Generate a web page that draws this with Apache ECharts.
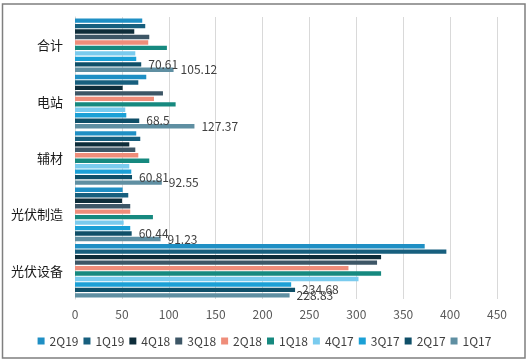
<!DOCTYPE html>
<html>
<head>
<meta charset="utf-8">
<script src="https://cdn.jsdelivr.net/npm/echarts@6/dist/echarts.min.js"></script>
<style>
html,body{margin:0;padding:0;background:#fff;}
#chart{width:529px;height:362px;}
</style>
</head>
<body>
<div id="chart"></div>
<script>
var categories = ['合计', '电站', '辅材', '光伏制造', '光伏设备'];
var seriesNames = ['2Q19', '1Q19', '4Q18', '3Q18', '2Q18', '1Q18', '4Q17', '3Q17', '2Q17', '1Q17'];
var s2Q19 = [71.7, 76.0, 65.3, 50.8, 372.9];
var s1Q19 = [74.9, 67.5, 69.6, 56.8, 396.0];
var s4Q18 = [63.2, 50.8, 57.9, 50.1, 326.4];
var s3Q18 = [79.2, 93.8, 64.3, 58.9, 322.1];
var s2Q18 = [78.1, 84.2, 67.5, 58.9, 291.6];
var s1Q18 = [98.0, 107.3, 79.2, 83.1, 326.4];
var s4Q17 = [64.3, 53.6, 57.9, 51.9, 302.3];
var s3Q17 = [65.3, 54.7, 60.0, 58.9, 230.5];
var s2Q17 = [70.61, 68.5, 60.81, 60.44, 234.68];
var s1Q17 = [105.12, 127.37, 92.55, 91.23, 228.83];
var xTicks = [0, 50, 100, 150, 200, 250, 300, 350, 400, 450];

var seriesData = [s2Q19, s1Q19, s4Q18, s3Q18, s2Q18, s1Q18, s4Q17, s3Q17, s2Q17, s1Q17];
var colors = ['#1f8fc4', '#175f7e', '#0e2d3a', '#3d5666', '#ef8d7a', '#16897f', '#7acbee', '#1ba0d6', '#0f4f68', '#5f8fa2'];
var labeled = ['2Q17', '1Q17'];
var FONT = '"Noto Sans CJK SC", "DejaVu Sans", sans-serif';

var series = seriesNames.map(function (name, i) {
  var showLabel = labeled.indexOf(name) >= 0;
  return {
    name: name,
    type: 'bar',
    data: seriesData[i],
    barCategoryGap: '5%',
    barGap: '25%',
    itemStyle: { color: colors[i] },
    label: {
      show: showLabel,
      position: 'right',
      distance: 7,
      fontSize: 12,
      fontFamily: FONT,
      color: '#404040',
      formatter: function (p) { return p.value; }
    },
    emphasis: { disabled: true },
    animation: false
  };
});

var chart = echarts.init(document.getElementById('chart'), null, { renderer: 'canvas' });
chart.setOption({
  animation: false,
  color: colors,
  textStyle: { fontFamily: FONT },
  graphic: [{
    type: 'rect',
    shape: { x: 2.5, y: 4, width: 522.5, height: 354 },
    style: { fill: 'none', stroke: '#7f7f7f', lineWidth: 1.5 },
    silent: true
  }],
  grid: { left: 75, right: 32, top: 17, bottom: 63, containLabel: false },
  legend: {
    data: seriesNames,
    left: 'center',
    top: 330,
    icon: 'rect',
    itemWidth: 7,
    itemHeight: 7,
    itemGap: 5,
    textStyle: { fontSize: 12, color: '#404040', fontFamily: FONT }
  },
  xAxis: {
    type: 'value',
    min: xTicks[0],
    max: xTicks[xTicks.length - 1],
    interval: xTicks[1] - xTicks[0],
    axisLine: { show: false },
    axisTick: { show: false },
    splitLine: { show: true, lineStyle: { color: '#d9d9d9', width: 1 } },
    axisLabel: { fontSize: 12, color: '#595959', margin: 9, fontFamily: FONT }
  },
  yAxis: {
    type: 'category',
    data: categories,
    inverse: true,
    axisLine: { show: true, lineStyle: { color: '#d9d9d9' } },
    axisTick: { show: false },
    axisLabel: { fontSize: 13, color: '#1a1a1a', margin: 12, fontFamily: FONT }
  },
  series: series
});
</script>
</body>
</html>
